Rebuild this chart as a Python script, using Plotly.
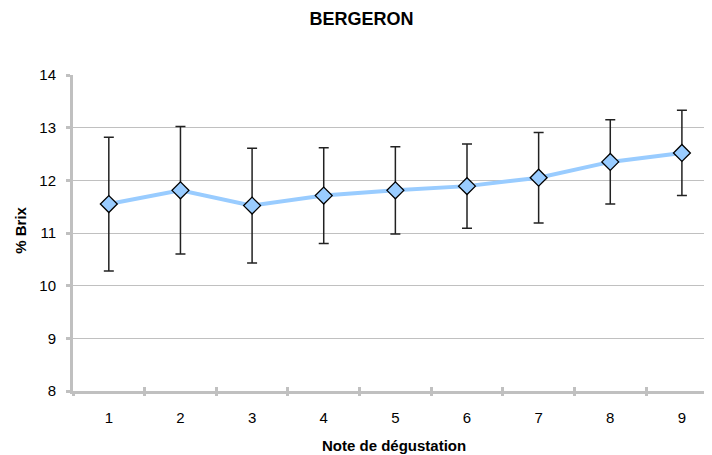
import plotly.graph_objects as go

notes = [1, 2, 3, 4, 5, 6, 7, 8, 9]
brix_mean = [11.55, 11.81, 11.52, 11.71, 11.81, 11.89, 12.05, 12.35, 12.52]
brix_err = [1.27, 1.21, 1.09, 0.91, 0.83, 0.80, 0.86, 0.80, 0.81]
y_ticks = [8, 9, 10, 11, 12, 13, 14]
boundaries = [0.5, 1.5, 2.5, 3.5, 4.5, 5.5, 6.5, 7.5, 8.5, 9.5]

title_text = "BERGERON"
x_title = "Note de dégustation"
y_title = "% Brix"

GRAY = "#c0c0c0"
FONT = "Liberation Sans, Arial, sans-serif"
XRANGE = [0.5, 9.42]

fig = go.Figure()
fig.add_trace(go.Scatter(
    x=notes, y=brix_mean,
    mode="lines+markers",
    line=dict(color="#99ccff", width=4),
    marker=dict(symbol="diamond", size=13, color="#99ccff",
                line=dict(color="#000000", width=1.3)),
    error_y=dict(type="data", array=brix_err, visible=True,
                 color="#222222", thickness=1.5, width=5),
    showlegend=False, hoverinfo="x+y",
))
# invisible helper traces to draw the boundary ticks crossing the x axis
for ax in ["x2", "x3"]:
    fig.add_trace(go.Scatter(x=notes, y=brix_mean, xaxis=ax, mode="markers",
                             marker=dict(opacity=0), showlegend=False,
                             hoverinfo="skip"))

# page body has an 8px margin: figure is 704x447 placed at (8, 8)
PL, PR, PT, PB = 73, 712, 74.5, 391  # plot area in page pixels

fig.update_layout(
    width=704, height=447,
    margin=dict(l=PL - 8, r=0, t=PT - 8, b=455 - PB),
    paper_bgcolor="white", plot_bgcolor="white",
    font=dict(family=FONT, color="#000000", size=15),
    title=dict(text="<b>%s</b>" % title_text, font=dict(size=18, family=FONT),
               x=(361.5 - 8) / 704, xref="container", xanchor="center",
               y=1 - (19 - 8) / 447, yref="container", yanchor="middle"),
    xaxis=dict(range=XRANGE, tickmode="array", tickvals=notes,
               ticktext=[str(n) for n in notes], ticks="", showgrid=False,
               zeroline=False, showline=True, linecolor=GRAY, linewidth=3,
               ticklabelstandoff=11, tickfont=dict(size=15)),
    xaxis2=dict(range=XRANGE, overlaying="x", anchor="y", side="bottom",
                tickmode="array", tickvals=boundaries, ticks="outside",
                ticklen=4, tickwidth=3, tickcolor=GRAY, showticklabels=False,
                showgrid=False, zeroline=False, showline=False),
    xaxis3=dict(range=XRANGE, overlaying="x", anchor="y", side="bottom",
                tickmode="array", tickvals=boundaries, ticks="inside",
                ticklen=4, tickwidth=3, tickcolor=GRAY, showticklabels=False,
                showgrid=False, zeroline=False, showline=False),
    yaxis=dict(range=[8, 14], tickmode="array", tickvals=y_ticks,
               ticks="outside", ticklen=4, tickwidth=3, tickcolor=GRAY,
               showgrid=True, gridcolor=GRAY, gridwidth=1, zeroline=False,
               showline=True, linecolor=GRAY, linewidth=3,
               ticklabelstandoff=7, tickfont=dict(size=15)),
    annotations=[
        dict(text="<b>%s</b>" % x_title, xref="paper", yref="paper",
             x=(394 - PL) / (PR - PL), y=-(445.5 - PB) / (PB - PT),
             xanchor="center", yanchor="middle", showarrow=False,
             font=dict(size=15, family=FONT)),
        dict(text="<b>%s</b>" % y_title, xref="paper", yref="paper",
             x=-(PL - 21) / (PR - PL), y=(PB - 230.5) / (PB - PT),
             xanchor="center", yanchor="middle", showarrow=False,
             textangle=-90, font=dict(size=15, family=FONT)),
    ],
)

fig.write_html("out.html")
